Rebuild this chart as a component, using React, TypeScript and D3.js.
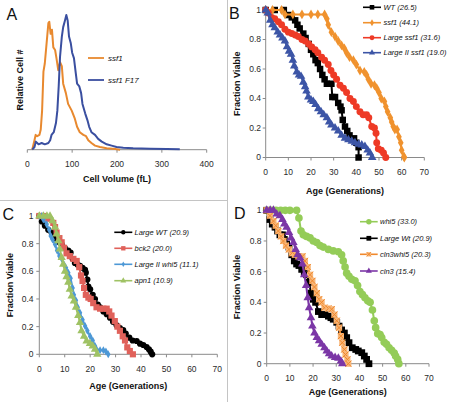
import React from 'react';
import * as d3 from 'd3';

type Pt = [number, number];

// ---------- Panel A: cell volume distributions ----------
const volTicks = [0, 100, 200, 300, 400];
const aSsf1: Pt[] = [[11,0],[16,0.07],[18.6,0.11],[22,0.10],[27,0.11],[30,0.15],[33,0.29],[36,0.58],[39,0.64],[43,0.79],[47,0.94],[49,0.95],[52,0.86],[55,0.89],[58,0.76],[62,0.74],[65,0.68],[69,0.59],[73,0.65],[77,0.62],[80,0.49],[86,0.42],[91,0.34],[99,0.29],[106,0.23],[111,0.17],[117,0.13],[125,0.11],[131,0.10],[136,0.07],[143,0.05],[151,0.03],[162,0.02],[177,0.01],[196,0.005],[207,0]];
const aSsf1F17: Pt[] = [[11,0],[16,0.02],[19,0.06],[25,0.04],[32,0.05],[39,0.04],[47,0.05],[51,0.07],[54,0.11],[59,0.13],[64,0.20],[67,0.29],[70,0.47],[73,0.69],[77,0.84],[80,0.91],[84,0.96],[87,1.0],[90,0.96],[93,0.84],[97,0.79],[100,0.72],[104,0.68],[108,0.57],[111,0.49],[116,0.47],[120,0.42],[123,0.34],[129,0.27],[134,0.22],[138,0.17],[143,0.13],[151,0.11],[158,0.08],[166,0.06],[177,0.04],[188,0.03],[199,0.02],[214,0.015],[236,0.01],[274,0.007],[311,0.005],[340,0.003]];

// ---------- shared survival ticks ----------
const genTicks = [0, 10, 20, 30, 40, 50, 60, 70];
const fracTicks = [0, 0.2, 0.4, 0.6, 0.8, 1];

// ---------- Panel B ----------
const bWT: Pt[] = [[0,1],[4,1],[8,1],[10,0.966],[11.5,0.95],[13,0.93],[14,0.9],[15,0.875],[16.6,0.84],[17.6,0.81],[19,0.77],[20,0.73],[21,0.70],[22,0.66],[23,0.64],[24,0.60],[25,0.56],[26,0.53],[27,0.50],[29,0.50],[29.4,0.41],[30.6,0.41],[32,0.37],[33,0.345],[33.5,0.32],[34,0.255],[35,0.21],[36,0.18],[37,0.15],[39,0.13],[40,0.10],[41,0.07],[41,0]];
const bSsf1: Pt[] = [[0,1],[3,1],[7,1],[8.5,0.97],[12,0.97],[16,0.97],[20,0.97],[23,0.97],[26,0.97],[27,0.94],[27.6,0.90],[29,0.85],[30.6,0.82],[32,0.79],[33.5,0.76],[34.7,0.74],[35.7,0.71],[37,0.68],[38.7,0.66],[40,0.63],[41.6,0.59],[43.5,0.58],[44.5,0.56],[45.3,0.53],[46.5,0.50],[48,0.49],[49,0.47],[50,0.44],[51,0.40],[52.4,0.38],[53,0.345],[53.8,0.31],[55,0.27],[55.6,0.24],[56.3,0.21],[57,0.19],[58,0.19],[58.8,0.14],[59.6,0.10],[60,0.05],[61,0.007],[61.2,0]];
const bLargeSsf1: Pt[] = [[0,1],[1.2,0.98],[2.6,0.95],[4,0.94],[5.6,0.92],[7,0.90],[8.5,0.87],[10,0.85],[11.5,0.84],[13,0.83],[14.4,0.82],[16,0.80],[17.4,0.79],[19,0.77],[20.3,0.75],[21.8,0.73],[23,0.71],[24.7,0.68],[26,0.66],[27.6,0.63],[28.8,0.59],[30,0.56],[31.3,0.53],[32.8,0.49],[34.3,0.47],[35.7,0.44],[37.2,0.40],[38.7,0.38],[40,0.345],[41.6,0.31],[43,0.29],[44.5,0.29],[45.5,0.27],[46.8,0.21],[48,0.20],[48.7,0.165],[49,0.10],[49.7,0.06],[51,0.05],[52,0.03],[53,0]];
const bLargeIISsf1: Pt[] = [[0,1],[0.9,0.98],[2,0.93],[3,0.90],[4,0.88],[5.3,0.85],[6.3,0.83],[7.4,0.81],[8.5,0.79],[9.4,0.75],[10.3,0.72],[11.2,0.70],[12,0.66],[12.6,0.62],[13.7,0.58],[14.7,0.56],[15.6,0.55],[16.6,0.51],[17.4,0.48],[18,0.45],[18.8,0.41],[20,0.39],[21,0.38],[22,0.36],[23.2,0.33],[24.4,0.31],[25.6,0.29],[27,0.27],[28,0.24],[29,0.22],[30.6,0.20],[32,0.18],[33.5,0.15],[35,0.13],[36.5,0.12],[38,0.11],[39.4,0.10],[41,0.09],[42.4,0.085],[43.8,0.075],[45,0.05],[46,0.03],[47,0]];

// ---------- Panel C ----------
const cLargeWT: Pt[] = [[0,1],[1,0.96],[2.2,0.93],[3.5,0.90],[4.8,0.88],[6.2,0.855],[7,0.83],[7.9,0.81],[8.8,0.795],[10,0.77],[11.4,0.75],[12.3,0.735],[13.1,0.69],[14,0.66],[15,0.65],[16,0.64],[17,0.625],[18,0.61],[18.3,0.59],[18.9,0.54],[19.3,0.49],[20,0.47],[21,0.43],[21.9,0.40],[23,0.36],[23.9,0.34],[25.2,0.31],[26.5,0.29],[27.8,0.265],[29,0.235],[30.4,0.21],[31.7,0.19],[33,0.175],[34,0.15],[35.4,0.12],[36.7,0.10],[38.3,0.096],[39.6,0.077],[40.9,0.067],[42.2,0.053],[43.1,0.036],[43.8,0.019],[44.4,0]];
const cBck2: Pt[] = [[0,1],[1.6,1],[3.5,0.98],[5.5,0.95],[6.2,0.92],[6.8,0.88],[7.9,0.84],[8.8,0.81],[9.7,0.77],[10.7,0.73],[12,0.71],[13.4,0.69],[14.7,0.675],[15.7,0.63],[16.4,0.57],[17,0.53],[17.6,0.48],[18.3,0.43],[19.3,0.41],[20.2,0.40],[21.2,0.37],[22.5,0.34],[23.9,0.33],[25.2,0.33],[26.5,0.33],[27.5,0.31],[28.4,0.28],[29.7,0.24],[30.7,0.20],[31.7,0.17],[32.8,0.13],[33.7,0.10],[34.6,0.05],[35.6,0.024],[36.8,0]];
const cLargeIIWhi5: Pt[] = [[0,1],[1,1],[1.6,0.975],[2.9,0.94],[3.9,0.90],[4.5,0.855],[5.2,0.83],[6.2,0.795],[7,0.75],[7.9,0.71],[8.8,0.69],[9.7,0.65],[10.5,0.625],[11.4,0.59],[12.3,0.55],[13.1,0.48],[13.6,0.43],[14.4,0.39],[15.1,0.34],[16,0.30],[17,0.25],[18,0.205],[18.9,0.17],[20,0.13],[21,0.10],[21.9,0.06],[22.5,0.036],[23.9,0.03],[25.2,0.03],[26.2,0.02],[27.1,0]];
const cApn1: Pt[] = [[0,1],[1.6,1],[3,1],[4.2,1],[5.2,0.965],[6.2,0.92],[6.8,0.87],[7.5,0.82],[8.1,0.76],[8.8,0.70],[9.4,0.65],[10.1,0.60],[10.7,0.56],[11.4,0.52],[12,0.47],[12.7,0.42],[13.6,0.385],[14.4,0.34],[15.3,0.28],[16,0.23],[16.6,0.17],[17.6,0.13],[18.6,0.096],[19.9,0.077],[21,0.06],[21.9,0.036],[22.8,0]];

// ---------- Panel D ----------
const dWhi5: Pt[] = [[0,1],[2,1],[4,1],[6,1],[8,1],[10,1],[12.9,1],[13.9,0.95],[14.8,0.865],[15.8,0.84],[17.2,0.83],[18.7,0.82],[20.1,0.80],[21.6,0.79],[23,0.77],[24.4,0.76],[26.6,0.745],[28.7,0.735],[30.9,0.73],[32.3,0.71],[33,0.67],[33.8,0.63],[34.5,0.59],[35.5,0.57],[36.7,0.55],[38.1,0.54],[39.2,0.51],[40.2,0.47],[41.3,0.45],[42.4,0.43],[43.6,0.41],[44.6,0.40],[45.6,0.35],[46.4,0.28],[47,0.235],[47.9,0.196],[48.9,0.19],[49.6,0.17],[50.7,0.14],[51.7,0.126],[52.8,0.104],[53.9,0.087],[55,0.07],[55.6,0.05],[56.5,0.028],[57,0]];
const dLargeWt: Pt[] = [[0,1],[1.4,0.94],[2.4,0.91],[3.6,0.89],[4.7,0.865],[5.7,0.84],[6.8,0.84],[7.6,0.81],[8.6,0.78],[9.6,0.76],[10.8,0.71],[11.9,0.67],[12.9,0.65],[13.9,0.64],[15.1,0.615],[16.2,0.59],[17.2,0.58],[18.3,0.53],[19.1,0.46],[20.1,0.42],[21.1,0.40],[22.3,0.34],[23.7,0.32],[25.2,0.32],[26.6,0.31],[27.7,0.30],[28.7,0.29],[30.2,0.27],[31.2,0.245],[32.3,0.22],[33.5,0.20],[34.5,0.17],[35.5,0.137],[36.9,0.104],[38.4,0.093],[39.5,0.083],[41,0.072],[42.1,0.05],[43.1,0.028],[44.1,0]];
const dCln3Whi5: Pt[] = [[0,1],[1.4,0.965],[2.9,0.93],[3.9,0.90],[5,0.865],[6.2,0.83],[7.2,0.80],[8.3,0.77],[9.6,0.745],[10.8,0.72],[12.2,0.71],[13.7,0.70],[15.4,0.70],[16.5,0.67],[17.7,0.63],[18.7,0.58],[19.7,0.54],[20.6,0.50],[21.6,0.46],[22.6,0.42],[23.7,0.40],[24.9,0.365],[26.6,0.36],[28,0.355],[29.2,0.32],[30.2,0.28],[31.2,0.235],[32,0.18],[32.6,0.137],[33.5,0.093],[34,0.06],[34.8,0.028],[35.2,0]];
const dCln3: Pt[] = [[0,1],[1.5,1],[2.9,1],[4.3,0.975],[5.7,0.965],[6.8,0.94],[7.6,0.91],[8.6,0.89],[9.6,0.855],[10.5,0.82],[11.5,0.79],[12.5,0.745],[13.4,0.71],[14.4,0.69],[15.4,0.65],[16.2,0.58],[17,0.51],[17.7,0.43],[18.3,0.365],[19.1,0.30],[19.7,0.245],[20.6,0.20],[21.6,0.17],[22.6,0.15],[23.7,0.126],[24.9,0.104],[25.9,0.083],[26.9,0.065],[28,0.05],[29.5,0.04],[30.9,0.035],[32,0.017],[32.6,0]];

const FONT = '"Liberation Sans", Arial, Helvetica, sans-serif';
const AXIS = '#8a8a8a';
const TXT = '#2b2b2b';

type Kind = 'square' | 'circle' | 'triangle' | 'diamond' | 'xsquare';
interface Series { name: string; data: Pt[]; color: string; kind: Kind; size: number; }

function Marker({ kind, x, y, color, size }: { kind: Kind; x: number; y: number; color: string; size: number }) {
  const types: Record<string, d3.SymbolType> = {
    square: d3.symbolSquare, circle: d3.symbolCircle, triangle: d3.symbolTriangle, diamond: d3.symbolDiamond, xsquare: d3.symbolSquare,
  };
  const p = d3.symbol().type(types[kind]).size(size)() as string;
  if (kind === 'xsquare') {
    const px = d3.symbol().type(d3.symbolX).size(size * 0.7)() as string;
    return (
      <g transform={`translate(${x},${y})`}>
        <path d={p} fill="#f8b77a" />
        <path d={px} fill="none" stroke={color} strokeWidth={1} />
      </g>
    );
  }
  return <path d={p} transform={`translate(${x},${y})`} fill={color} />;
}

interface PanelCfg {
  letter: string; letterX: number; letterY: number;
  xl: number; xr: number; yt: number; yb: number;
  yTickX: number; xTickY: number; titleY: number; yTitleX: number;
  legX0: number; legX1: number; legTextX: number; legY: number[];
  series: Series[];
}

function SurvPanel({ cfg }: { cfg: PanelCfg }) {
  const x = d3.scaleLinear().domain([0, 70]).range([cfg.xl, cfg.xr]);
  const y = d3.scaleLinear().domain([0, 1]).range([cfg.yb, cfg.yt]);
  const line = d3.line<Pt>().x(d => x(d[0])).y(d => y(d[1]));
  const midX = (cfg.xl + cfg.xr) / 2;
  const midY = (cfg.yt + cfg.yb) / 2;
  return (
    <g fontFamily={FONT}>
      <text x={cfg.letterX} y={cfg.letterY} fontSize={16} fill="#111">{cfg.letter}</text>
      <line x1={cfg.xl} x2={cfg.xl} y1={cfg.yt} y2={cfg.yb} stroke={AXIS} strokeWidth={1} />
      <line x1={cfg.xl} x2={cfg.xr} y1={cfg.yb} y2={cfg.yb} stroke={AXIS} strokeWidth={1} />
      {fracTicks.map(t => (
        <g key={'y' + t}>
          <line x1={cfg.xl - 3} x2={cfg.xl} y1={y(t)} y2={y(t)} stroke={AXIS} />
          <text x={cfg.yTickX} y={y(t)} dy="0.35em" textAnchor="end" fontSize={8.5} fill={TXT}>{d3.format('~g')(t)}</text>
        </g>
      ))}
      {genTicks.map(t => (
        <g key={'x' + t}>
          <line x1={x(t)} x2={x(t)} y1={cfg.yb} y2={cfg.yb + 3} stroke={AXIS} />
          <text x={x(t)} y={cfg.xTickY} dy="0.35em" textAnchor="middle" fontSize={8.5} fill={TXT}>{t}</text>
        </g>
      ))}
      <text x={midX} y={cfg.titleY} dy="0.35em" textAnchor="middle" fontSize={9} fontWeight="bold" fill="#111">Age (Generations)</text>
      <text transform={`translate(${cfg.yTitleX},${midY}) rotate(-90)`} dy="0.35em" textAnchor="middle" fontSize={9} fontWeight="bold" fill="#111">Fraction Viable</text>
      {cfg.series.map(s => (
        <g key={s.name}>
          <path d={line(s.data) as string} fill="none" stroke={s.color} strokeWidth={2} strokeLinejoin="round" />
          {s.data.map((d, i) => (
            <Marker key={i} kind={s.kind} x={x(d[0])} y={y(d[1])} color={s.color} size={s.size} />
          ))}
        </g>
      ))}
      {cfg.series.map((s, i) => (
        <g key={'l' + s.name}>
          <line x1={cfg.legX0} x2={cfg.legX1} y1={cfg.legY[i]} y2={cfg.legY[i]} stroke={s.color} strokeWidth={1.6} />
          <Marker kind={s.kind} x={(cfg.legX0 + cfg.legX1) / 2} y={cfg.legY[i]} color={s.color} size={s.size * 0.5} />
          <text x={cfg.legTextX} y={cfg.legY[i]} dy="0.35em" fontSize={7.5} fontStyle="italic" fill="#111">{s.name}</text>
        </g>
      ))}
    </g>
  );
}

const panelB: PanelCfg = {
  letter: 'B', letterX: 229, letterY: 18.5,
  xl: 265.7, xr: 424.3, yt: 10, yb: 157.5,
  yTickX: 261, xTickY: 172, titleY: 191, yTitleX: 237,
  legX0: 363, legX1: 381, legTextX: 383.5, legY: [7.3, 22.7, 37.7, 52.7],
  series: [
    { name: 'WT (26.5)', data: bWT, color: '#000000', kind: 'square', size: 42 },
    { name: 'ssf1 (44.1)', data: bSsf1, color: '#f0922e', kind: 'diamond', size: 28 },
    { name: 'Large ssf1 (31.6)', data: bLargeSsf1, color: '#ee3a26', kind: 'circle', size: 38 },
    { name: 'Large II ssf1 (19.0)', data: bLargeIISsf1, color: '#3c55a6', kind: 'triangle', size: 32 },
  ],
};

const panelC: PanelCfg = {
  letter: 'C', letterX: 2.5, letterY: 219.5,
  xl: 39.3, xr: 217.3, yt: 216, yb: 354.3,
  yTickX: 33.5, xTickY: 369.5, titleY: 385.5, yTitleX: 10,
  legX0: 114.3, legX1: 132.3, legTextX: 134.5, legY: [232.3, 248.3, 264.3, 280.7],
  series: [
    { name: 'Large WT (20.9)', data: cLargeWT, color: '#000000', kind: 'circle', size: 30 },
    { name: 'bck2 (20.0)', data: cBck2, color: '#e0615a', kind: 'square', size: 38 },
    { name: 'Large II whi5 (11.1)', data: cLargeIIWhi5, color: '#4d98d6', kind: 'diamond', size: 18 },
    { name: 'apn1 (10.9)', data: cApn1, color: '#9fc264', kind: 'triangle', size: 30 },
  ],
};

const panelD: PanelCfg = {
  letter: 'D', letterX: 234, letterY: 219,
  xl: 266.7, xr: 429, yt: 210.3, yb: 363.7,
  yTickX: 261.5, xTickY: 378, titleY: 392, yTitleX: 237.3,
  legX0: 360, legX1: 377.7, legTextX: 380, legY: [221.7, 238.3, 254.3, 271],
  series: [
    { name: 'whi5 (33.0)', data: dWhi5, color: '#94cc58', kind: 'circle', size: 46 },
    { name: 'Large Wt (20.9)', data: dLargeWt, color: '#000000', kind: 'square', size: 46 },
    { name: 'cln3whi5 (20.3)', data: dCln3Whi5, color: '#f0882c', kind: 'xsquare', size: 38 },
    { name: 'cln3 (15.4)', data: dCln3, color: '#7b36a6', kind: 'triangle', size: 32 },
  ],
};

function PanelA() {
  const x = d3.scaleLinear().domain([0, 400]).range([27.3, 206.7]);
  const y = d3.scaleLinear().domain([0, 1]).range([149.7, 15]);
  const line = d3.line<Pt>().x(d => x(d[0])).y(d => y(d[1]));
  const axisY = 149.7;
  return (
    <g fontFamily={FONT}>
      <text x={6.5} y={20} fontSize={16} fill="#111">A</text>
      <line x1={x(0)} x2={x(400)} y1={axisY} y2={axisY} stroke={AXIS} />
      {volTicks.map(t => (
        <g key={t}>
          <line x1={x(t)} x2={x(t)} y1={axisY} y2={axisY + 3} stroke={AXIS} />
          <text x={x(t)} y={164.5} dy="0.35em" textAnchor="middle" fontSize={8.5} fill={TXT}>{t}</text>
        </g>
      ))}
      <text x={(x(0) + x(400)) / 2} y={178.5} dy="0.35em" textAnchor="middle" fontSize={9} fontWeight="bold" fill="#111">Cell Volume (fL)</text>
      <text transform="translate(20,80) rotate(-90)" dy="0.35em" textAnchor="middle" fontSize={9} fontWeight="bold" fill="#111">Relative Cell #</text>
      <path d={line(aSsf1) as string} fill="none" stroke="#e8892f" strokeWidth={2} strokeLinejoin="round" />
      <path d={line(aSsf1F17) as string} fill="none" stroke="#3a4fa0" strokeWidth={2} strokeLinejoin="round" />
      <line x1={88} x2={104} y1={58} y2={58} stroke="#e8892f" strokeWidth={1.8} />
      <text x={108} y={58} dy="0.35em" fontSize={8} fontStyle="italic" fill="#111">ssf1</text>
      <line x1={88} x2={104} y1={80} y2={80} stroke="#3a4fa0" strokeWidth={1.8} />
      <text x={108} y={80} dy="0.35em" fontSize={8} fontStyle="italic" fill="#111">ssf1 F17</text>
    </g>
  );
}

export default function App() {
  return (
    <div style={{ position: 'absolute', left: 0, top: 0 }}>
      <svg width={450} height={402} style={{ display: 'block', background: '#fff' }}>
        <rect x={0} y={0} width={450} height={402} fill="#fff" />
        <line x1={227.5} x2={227.5} y1={0} y2={402} stroke="#c4c4c4" strokeWidth={1} />
        <line x1={0} x2={228} y1={200.5} y2={200.5} stroke="#c4c4c4" strokeWidth={1} />
        <PanelA />
        <SurvPanel cfg={panelB} />
        <SurvPanel cfg={panelC} />
        <SurvPanel cfg={panelD} />
      </svg>
    </div>
  );
}
